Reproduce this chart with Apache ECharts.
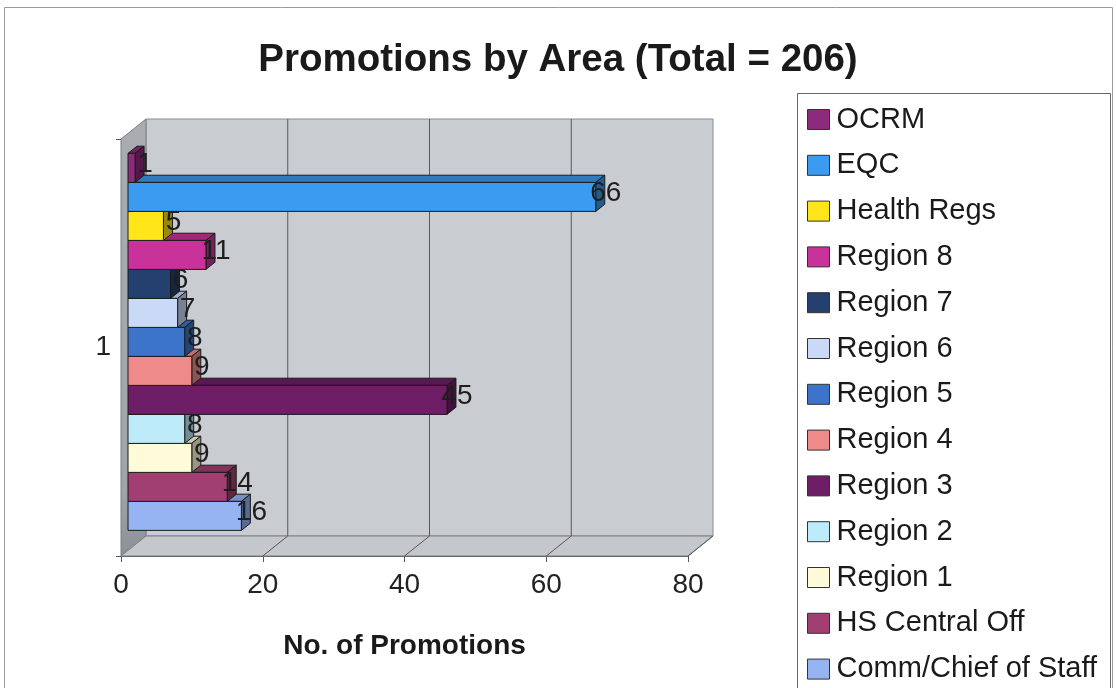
<!DOCTYPE html>
<html>
<head>
<meta charset="utf-8">
<script src="https://cdn.jsdelivr.net/npm/echarts@6/dist/echarts.min.js"></script>
<style>
  html, body { margin: 0; padding: 0; background: #ffffff; }
  #chart { width: 1116px; height: 688px; }
</style>
</head>
<body>
<div id="chart"></div>
<script>
// Promotions per organisational area (single category "1")
const areas = ['OCRM', 'EQC', 'Health Regs', 'Region 8', 'Region 7', 'Region 6', 'Region 5',
               'Region 4', 'Region 3', 'Region 2', 'Region 1', 'HS Central Off', 'Comm/Chief of Staff'];
const promotions = [1, 66, 5, 11, 6, 7, 8, 9, 45, 8, 9, 14, 16];
const areaColors = ['#8C2A7C', '#3A9BF0', '#FFE51A', '#C8339A', '#24406E', '#C9D9F6', '#3B74C9',
                    '#EE8A8A', '#6E1E66', '#BDEBFA', '#FFFBD8', '#A23F72', '#96B3F2'];
const categories = ['1'];
const xTicks = [0, 20, 40, 60, 80];

const FONT = '"Liberation Sans", Arial, sans-serif';
const DX = 25, DY = -20;      // offset from the front plane to the back wall
const F1 = 0.28, F2 = 0.64;   // depth of the bars' front and back faces
const FILL = 0.904;           // share of the category band used by the bars

function shade(hex, f) {
  const n = parseInt(hex.slice(1), 16);
  const r = Math.round(((n >> 16) & 255) * f);
  const g = Math.round(((n >> 8) & 255) * f);
  const b = Math.round((n & 255) * f);
  return 'rgb(' + r + ',' + g + ',' + b + ')';
}

// geometry of bar k (0 = top) in pixel space
function barBox(api, k) {
  const cat = api.value(1);
  const v = api.value(0);
  const base = api.coord([0, cat]);
  const end = api.coord([v, cat]);
  const bandH = api.size([0, 1])[1];
  const slot = bandH * FILL / areas.length;
  const top = base[1] - bandH * FILL / 2 + k * slot;
  return {
    xl: base[0] + DX * F1,
    xr: end[0] + DX * F1,
    yt: top + DY * F1,
    h: slot,
    a: DX * (F2 - F1),
    b: DY * (F2 - F1)
  };
}

function makeBarRender(k, color) {
  return function (params, api) {
    const g = barBox(api, k);
    const yb = g.yt + g.h;
    const edge = { stroke: '#1b1b1b', lineWidth: 1, lineJoin: 'round' };
    return {
      type: 'group',
      children: [
        { type: 'polygon', shape: { points: [[g.xl, g.yt], [g.xr, g.yt], [g.xr + g.a, g.yt + g.b], [g.xl + g.a, g.yt + g.b]] },
          style: Object.assign({ fill: shade(color, 0.8) }, edge) },
        { type: 'polygon', shape: { points: [[g.xr, g.yt], [g.xr + g.a, g.yt + g.b], [g.xr + g.a, yb + g.b], [g.xr, yb]] },
          style: Object.assign({ fill: shade(color, 0.6) }, edge) },
        { type: 'rect', shape: { x: g.xl, y: g.yt, width: Math.max(g.xr - g.xl, 0), height: g.h },
          style: Object.assign({ fill: color }, edge) }
      ]
    };
  };
}

// back wall, side wall, floor and gridlines
function wallsRender(params, api) {
  const cs = params.coordSys;
  const x0 = cs.x, x1 = cs.x + cs.width, yT = cs.y, yB = cs.y + cs.height;
  const kids = [
    { type: 'rect', shape: { x: x0 + DX, y: yT + DY, width: x1 - x0, height: yB - yT },
      style: { fill: '#C9CCD1', stroke: '#8a8c90', lineWidth: 1 } },
    { type: 'polygon', shape: { points: [[x0, yT], [x0 + DX, yT + DY], [x0 + DX, yB + DY], [x0, yB]] },
      style: {
        fill: new echarts.graphic.LinearGradient(0, 0, 0, 1, [
          { offset: 0, color: '#A9ACB1' }, { offset: 0.85, color: '#A1A4A9' }, { offset: 1, color: '#8C8F94' }
        ]),
        stroke: '#7d7f83', lineWidth: 1
      } },
    { type: 'polygon', shape: { points: [[x0, yB], [x0 + DX, yB + DY], [x1 + DX, yB + DY], [x1, yB]] },
      style: { fill: '#C4C7CC', stroke: '#7d7f83', lineWidth: 1 } }
  ];
  xTicks.forEach(function (t) {
    const px = api.coord([t, 0])[0];
    if (t > xTicks[0] && t < xTicks[xTicks.length - 1]) {
      kids.push({ type: 'line', shape: { x1: px + DX, y1: yT + DY, x2: px + DX, y2: yB + DY },
        style: { stroke: '#55575a', lineWidth: 1 } });
    }
    if (t > xTicks[0]) {
      kids.push({ type: 'line', shape: { x1: px, y1: yB, x2: px + DX, y2: yB + DY },
        style: { stroke: '#55575a', lineWidth: 1 } });
    }
  });
  return { type: 'group', children: kids };
}

function labelRender(params, api) {
  const k = api.value(2);
  const g = barBox(api, k);
  return {
    type: 'text',
    style: {
      text: String(api.value(0)),
      x: g.xr + 10,
      y: g.yt + g.h / 2 - 4,
      align: 'center',
      verticalAlign: 'middle',
      fill: '#1e1e1e',
      fontSize: 28,
      fontFamily: FONT
    }
  };
}

const series = [{
  type: 'custom',
  name: 'walls',
  z: 1,
  silent: true,
  data: [[0, 0]],
  encode: { x: 0, y: 1 },
  renderItem: wallsRender
}];

// bottom bar first so that each upper bar overlaps the one below
for (let k = areas.length - 1; k >= 0; k--) {
  series.push({
    type: 'custom',
    name: areas[k],
    z: 2,
    itemStyle: { color: areaColors[k] },
    data: [[promotions[k], 0]],
    encode: { x: 0, y: 1 },
    renderItem: makeBarRender(k, areaColors[k])
  });
}

series.push({
  type: 'custom',
  name: 'values',
  z: 3,
  silent: true,
  data: promotions.map(function (v, i) { return [v, 0, i]; }),
  encode: { x: 0, y: 1 },
  renderItem: labelRender
});

const chart = echarts.init(document.getElementById('chart'), null, { renderer: 'canvas' });
chart.setOption({
  animation: false,
  backgroundColor: '#ffffff',
  title: {
    text: 'Promotions by Area (Total = 206)',
    left: 'center',
    top: 36,
    textStyle: { fontSize: 38.5, fontWeight: 'bold', color: '#1a1a1a', fontFamily: FONT }
  },
  graphic: [
    { type: 'rect', z: -10, shape: { x: 4.5, y: 7.5, width: 1108, height: 700 },
      style: { fill: 'none', stroke: '#9a9a9a', lineWidth: 1 } },
    { type: 'rect', z: -9, shape: { x: 797.5, y: 93.5, width: 313, height: 620 },
      style: { fill: '#ffffff', stroke: '#666666', lineWidth: 1 } }
  ],
  legend: {
    data: areas,
    orient: 'vertical',
    left: 807,
    top: 105,
    height: 640,
    padding: 0,
    itemWidth: 22,
    itemHeight: 20,
    itemGap: 16.8,
    icon: 'rect',
    selectedMode: false,
    itemStyle: { borderColor: '#333333', borderWidth: 1 },
    textStyle: { fontSize: 29, color: '#1a1a1a', fontFamily: FONT, padding: [0, 0, 0, 2] }
  },
  grid: { left: 121, right: 428, top: 139, bottom: 132 },
  xAxis: {
    type: 'value',
    min: 0,
    max: 80,
    interval: 20,
    name: 'No. of Promotions',
    nameLocation: 'middle',
    nameGap: 76,
    nameTextStyle: { fontSize: 28, fontWeight: 'bold', color: '#1a1a1a', fontFamily: FONT },
    axisLine: { show: true, lineStyle: { color: '#555555', width: 1 } },
    axisTick: { show: true, length: 6, lineStyle: { color: '#555555' } },
    axisLabel: { fontSize: 28, margin: 15, color: '#222222', fontFamily: FONT },
    splitLine: { show: false }
  },
  yAxis: {
    type: 'category',
    data: categories,
    axisLine: { show: true, lineStyle: { color: '#777777' } },
    axisTick: { show: true, length: 5, lineStyle: { color: '#555555' } },
    axisLabel: { fontSize: 28, margin: 10, color: '#222222', fontFamily: FONT },
    splitLine: { show: false }
  },
  series: series
});
</script>
</body>
</html>
